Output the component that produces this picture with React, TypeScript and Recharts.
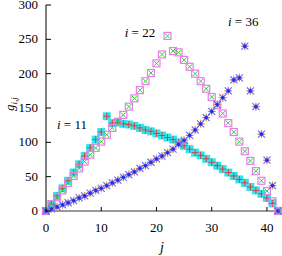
import { ReferenceDot, Scatter, ScatterChart, XAxis, YAxis } from 'recharts';

// j index (x axis)
const J = [
  0, 1, 2, 3, 4, 5, 6, 7, 8, 9, 10, 11, 12, 13, 14, 15, 16, 17, 18, 19, 20,
  21, 22, 23, 24, 25, 26, 27, 28, 29, 30, 31, 32, 33, 34, 35, 36, 37, 38, 39,
  40, 41, 42,
];

// g_{i,j} for i = 11, 22, 36
const G11 = [
  0, 10, 22, 33, 44, 56, 68, 80, 92, 104, 115, 138, 128, 129, 127, 126, 124,
  121, 118, 116, 113, 110, 107, 104, 100, 95, 90, 85, 81, 76, 71, 66, 61, 56,
  51, 46, 41, 35, 30, 25, 19, 11, 0,
];
const G22 = [
  0, 10, 20, 30, 41, 51, 62, 72, 82, 92, 101, 111, 121, 130, 140, 152, 164,
  176, 189, 201, 215, 228, 255, 233, 231, 220, 210, 200, 189, 178, 166, 154,
  142, 128, 115, 101, 87, 73, 58, 44, 29, 14, 0,
];
const G36 = [
  0, 3, 6, 9, 12, 15, 19, 22, 26, 30, 33, 37, 41, 45, 49, 53, 57, 62, 66, 71,
  76, 80, 85, 90, 97, 103, 110, 118, 127, 136, 145, 155, 165, 175, 191, 194,
  240, 175, 152, 112, 74, 37, 0,
];

const X_TICKS = [0, 10, 20, 30, 40];
const Y_TICKS = [0, 50, 100, 150, 200, 250, 300];

const LABELS = [
  { text: '11', j: 4.7, g: 119 },
  { text: '22', j: 17, g: 253 },
  { text: '36', j: 35.7, g: 270 },
];

const FONT = 'Liberation Serif, Times New Roman, serif';

const toRows = (vals: number[]) => J.map((j, k) => ({ j, g: vals[k] }));

const cyanSquare = ({ cx, cy }: any) => (
  <rect x={cx - 4} y={cy - 4} width={8} height={8} fill="#2ee6f0" />
);
const redPlus = ({ cx, cy }: any) => (
  <path
    d={`M${cx - 3.5},${cy}h7M${cx},${cy - 3.5}v7`}
    stroke="#d8403c"
    strokeWidth={1}
    fill="none"
  />
);
const magentaBox = ({ cx, cy }: any) => (
  <rect
    x={cx - 3.5}
    y={cy - 3.5}
    width={7}
    height={7}
    fill="none"
    stroke="#ee7aee"
    strokeWidth={1.2}
  />
);
const greenX = ({ cx, cy }: any) => (
  <path
    d={`M${cx - 2.5},${cy - 2.5}l5,5M${cx - 2.5},${cy + 2.5}l5,-5`}
    stroke="#30d030"
    strokeWidth={1}
    fill="none"
  />
);
const orangePlus = ({ cx, cy }: any) => (
  <path
    d={`M${cx - 4},${cy}h8M${cx},${cy - 4}v8`}
    stroke="#ff8a50"
    strokeWidth={1.3}
    fill="none"
  />
);
const blueStar = ({ cx, cy }: any) => (
  <g>
    <path
      d={`M${cx - 3.5},${cy - 3.5}l7,7M${cx - 3.5},${cy + 3.5}l7,-7M${cx - 2.5},${cy}h5M${cx},${cy - 2.5}v5`}
      stroke="#5a66ff"
      strokeWidth={1.1}
      fill="none"
    />
    <circle cx={cx} cy={cy} r={1.6} fill="#2030d0" />
  </g>
);

const BottomTick = ({ x, y, payload }: any) => (
  <g>
    <line x1={x} y1={y} x2={x} y2={y - 4} stroke="#000" />
    <text x={x} y={y + 21} textAnchor="middle" fontFamily={FONT} fontSize={13} fill="#000">
      {payload.value}
    </text>
  </g>
);
const TopTick = ({ x, y }: any) => (
  <line x1={x} y1={y} x2={x} y2={y + 4} stroke="#000" />
);
const LeftTick = ({ x, y, payload }: any) => (
  <g>
    <line x1={x} y1={y} x2={x + 5} y2={y} stroke="#000" />
    <text x={x - 8} y={y + 4} textAnchor="end" fontFamily={FONT} fontSize={13} fill="#000">
      {payload.value}
    </text>
  </g>
);
const RightTick = ({ x, y }: any) => (
  <line x1={x} y1={y} x2={x - 5} y2={y} stroke="#000" />
);

const YLabel = () => (
  <text
    x={14}
    y={104}
    transform="rotate(-90 14 104)"
    textAnchor="middle"
    fontFamily={FONT}
    fontSize={13}
    fill="#000"
  >
    <tspan fontStyle="italic">g</tspan>
    <tspan fontStyle="italic" fontSize={9} dy={3}>
      i,j
    </tspan>
  </text>
);

const XLabel = () => (
  <text x={162} y={252} textAnchor="middle" fontFamily={FONT} fontSize={14} fontStyle="italic" fill="#000">
    j
  </text>
);

export default function App() {
  const d11 = toRows(G11);
  const d22 = toRows(G22);
  const d36 = toRows(G36);

  return (
    <div style={{ position: 'absolute', left: 0, top: 0, background: '#fff' }}>
      <ScatterChart
        width={282}
        height={256}
        margin={{ top: 5, right: 4, bottom: 0, left: 0 }}
      >
        <XAxis
          xAxisId="b"
          dataKey="j"
          type="number"
          domain={[0, 42]}
          ticks={X_TICKS}
          interval={0}
          height={45}
          tickSize={0}
          tickMargin={0}
          tickLine={false}
          axisLine={{ stroke: '#777', strokeWidth: 1.6 }}
          tick={<BottomTick />}
        />
        <XAxis
          xAxisId="t"
          orientation="top"
          dataKey="j"
          type="number"
          domain={[0, 42]}
          ticks={X_TICKS}
          interval={0}
          height={0}
          tickSize={0}
          tickMargin={0}
          tickLine={false}
          axisLine={{ stroke: '#000' }}
          tick={<TopTick />}
        />
        <YAxis
          yAxisId="l"
          dataKey="g"
          type="number"
          domain={[0, 300]}
          ticks={Y_TICKS}
          interval={0}
          width={46}
          tickSize={0}
          tickMargin={0}
          tickLine={false}
          axisLine={{ stroke: '#000' }}
          tick={<LeftTick />}
        />
        <YAxis
          yAxisId="r"
          orientation="right"
          dataKey="g"
          type="number"
          domain={[0, 300]}
          ticks={Y_TICKS}
          interval={0}
          width={0}
          tickSize={0}
          tickMargin={0}
          tickLine={false}
          axisLine={{ stroke: '#777', strokeWidth: 1.6 }}
          tick={<RightTick />}
        />

        <Scatter xAxisId="b" yAxisId="l" data={d11} shape={cyanSquare} isAnimationActive={false} />
        <Scatter xAxisId="b" yAxisId="l" data={d11} shape={redPlus} isAnimationActive={false} />
        <Scatter xAxisId="b" yAxisId="l" data={d22} shape={magentaBox} isAnimationActive={false} />
        <Scatter xAxisId="b" yAxisId="l" data={d22} shape={greenX} isAnimationActive={false} />
        <Scatter xAxisId="b" yAxisId="l" data={d36} shape={orangePlus} isAnimationActive={false} />
        <Scatter xAxisId="b" yAxisId="l" data={d36} shape={blueStar} isAnimationActive={false} />

        {LABELS.map((l) => (
          <ReferenceDot
            key={l.text}
            xAxisId="b"
            yAxisId="l"
            x={l.j}
            y={l.g}
            ifOverflow="visible"
            shape={({ cx, cy }: any) => (
              <text x={cx} y={cy} textAnchor="middle" fontFamily={FONT} fontSize={13} fill="#000">
                <tspan fontStyle="italic">i</tspan> = {l.text}
              </text>
            )}
          />
        ))}
        <YLabel />
        <XLabel />
      </ScatterChart>
    </div>
  );
}
